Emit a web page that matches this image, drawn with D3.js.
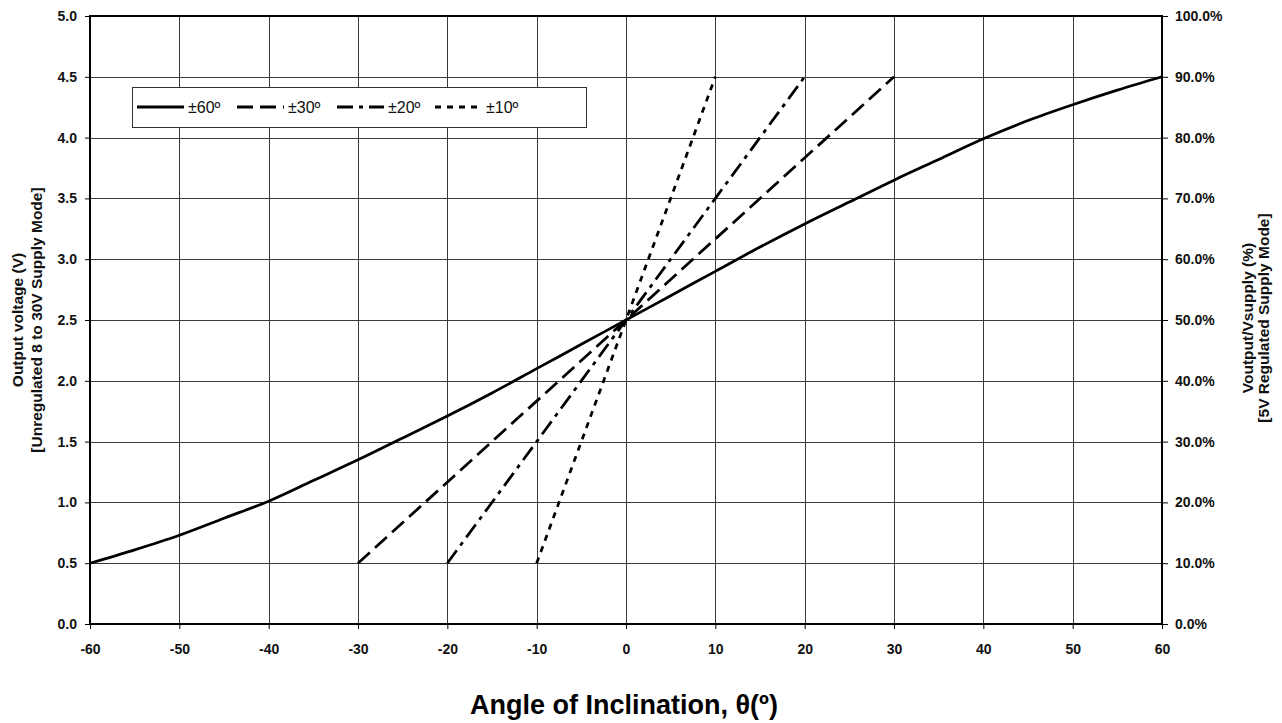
<!DOCTYPE html>
<html>
<head>
<meta charset="utf-8">
<script src="https://cdn.jsdelivr.net/npm/d3@7"></script>
<style>
  body { margin: 0; background: #fff; }
  svg { font-family: "Liberation Sans", Arial, sans-serif; }
  .axis text { font-size: 14px; font-weight: bold; fill: #111; }
  .axis path { display: none; }
  .axis line { stroke: #000; }
</style>
</head>
<body>
<script>
var hoeken60 = [-60, -55, -50, -45, -40, -35, -30, -25, -20, -15, -10, -5, 0, 5, 10, 15, 20, 25, 30, 35, 40, 45, 50, 55, 60];
var spanning60 = [0.50, 0.61, 0.73, 0.87, 1.01, 1.18, 1.35, 1.53, 1.71, 1.90, 2.10, 2.30, 2.50, 2.70, 2.90, 3.10, 3.29, 3.47, 3.65, 3.82, 3.99, 4.14, 4.27, 4.39, 4.50];
// rechte lijnen voor de andere bereiken
var hoeken30 = [-30, 30], spanning30 = [0.5, 4.5];
var hoeken20 = [-20, 20], spanning20 = [0.5, 4.5];
var hoeken10 = [-10, 10], spanning10 = [0.5, 4.5];
var reeksNamen = ["±60º", "±30º", "±20º", "±10º"];

var xTicks = [-60, -50, -40, -30, -20, -10, 0, 10, 20, 30, 40, 50, 60];
var yTicks = [0, 0.5, 1, 1.5, 2, 2.5, 3, 3.5, 4, 4.5, 5];
var yRechtsTicks = [0, 10, 20, 30, 40, 50, 60, 70, 80, 90, 100];

var breedte = 1282, hoogte = 723;
var marge = {links: 90, rechts: 1162, boven: 16, beneden: 624};

var svg = d3.select("body").append("svg")
    .attr("width", breedte)
    .attr("height", hoogte);

var x = d3.scaleLinear().domain([-60, 60]).range([marge.links, marge.rechts]);
var y = d3.scaleLinear().domain([0, 5]).range([marge.beneden, marge.boven]);
var yRechts = d3.scaleLinear().domain([0, 100]).range([marge.beneden, marge.boven]);

// rasterlijnen
svg.append("g").selectAll("line")
    .data(yTicks)
    .enter().append("line")
    .attr("x1", marge.links).attr("x2", marge.rechts)
    .attr("y1", function(d) { return Math.round(y(d)) + 0.5; })
    .attr("y2", function(d) { return Math.round(y(d)) + 0.5; })
    .attr("stroke", "#3a3a3a").attr("stroke-width", 1);

svg.append("g").selectAll("line")
    .data(xTicks)
    .enter().append("line")
    .attr("y1", marge.boven).attr("y2", marge.beneden)
    .attr("x1", function(d) { return Math.round(x(d)) + 0.5; })
    .attr("x2", function(d) { return Math.round(x(d)) + 0.5; })
    .attr("stroke", "#3a3a3a").attr("stroke-width", 1);

// kader
svg.append("rect")
    .attr("x", marge.links).attr("y", marge.boven)
    .attr("width", marge.rechts - marge.links)
    .attr("height", marge.beneden - marge.boven)
    .attr("fill", "none").attr("stroke", "#000").attr("stroke-width", 2);

// assen
svg.append("g").attr("class", "axis")
    .attr("transform", "translate(" + marge.links + ",0)")
    .call(d3.axisLeft(y).tickValues(yTicks).tickFormat(function(d) { return d.toFixed(1); }).tickSize(5).tickPadding(8));

svg.append("g").attr("class", "axis")
    .attr("transform", "translate(" + marge.rechts + ",0)")
    .call(d3.axisRight(yRechts).tickValues(yRechtsTicks).tickFormat(function(d) { return d.toFixed(1) + "%"; }).tickSize(6).tickPadding(7));

svg.append("g").attr("class", "axis")
    .attr("transform", "translate(0," + marge.beneden + ")")
    .call(d3.axisBottom(x).tickValues(xTicks).tickFormat(function(d) { return String(d); }).tickSize(5).tickPadding(15));

// lijnen
var lijn = d3.line()
    .x(function(d) { return x(d[0]); })
    .y(function(d) { return y(d[1]); })
    .curve(d3.curveMonotoneX);

var streep = ["", "16,7", "16,6,4,6", "6,6"];
var reeksen = [
  d3.zip(hoeken60, spanning60),
  d3.zip(hoeken30, spanning30),
  d3.zip(hoeken20, spanning20),
  d3.zip(hoeken10, spanning10)
];

svg.append("g").selectAll("path")
    .data(reeksen)
    .enter().append("path")
    .attr("d", lijn)
    .attr("fill", "none")
    .attr("stroke", "#000")
    .attr("stroke-width", 2.75)
    .attr("stroke-dasharray", function(d, i) { return streep[i] || null; });

// legenda
var legenda = svg.append("g");
legenda.append("rect")
    .attr("x", 132.5).attr("y", 87.5)
    .attr("width", 454).attr("height", 40)
    .attr("fill", "#fff").attr("stroke", "#333").attr("stroke-width", 1);

var legX = [137, 237, 337, 435];
legenda.selectAll("line")
    .data(reeksNamen)
    .enter().append("line")
    .attr("x1", function(d, i) { return legX[i]; })
    .attr("x2", function(d, i) { return legX[i] + 47; })
    .attr("y1", 107).attr("y2", 107)
    .attr("stroke", "#000").attr("stroke-width", 3)
    .attr("stroke-dasharray", function(d, i) { return streep[i] || null; });

legenda.selectAll("text")
    .data(reeksNamen)
    .enter().append("text")
    .attr("x", function(d, i) { return legX[i] + 51; })
    .attr("y", 113)
    .attr("font-size", "16px")
    .attr("fill", "#111")
    .text(function(d) { return d; });

// astitels
svg.append("text")
    .attr("x", 624).attr("y", 714)
    .attr("text-anchor", "middle")
    .attr("font-size", "27px").attr("font-weight", "bold")
    .text("Angle of Inclination, θ(º)");

var links = svg.append("text")
    .attr("transform", "translate(23,320) rotate(-90)")
    .attr("text-anchor", "middle")
    .attr("font-size", "15.5px").attr("font-weight", "bold").attr("fill", "#111");
links.append("tspan").attr("x", 0).attr("y", 0).text("Output voltage (V)");
links.append("tspan").attr("x", 0).attr("y", 19).text("[Unregulated 8 to 30V Supply Mode]");

var rechts = svg.append("text")
    .attr("transform", "translate(1253,318) rotate(-90)")
    .attr("text-anchor", "middle")
    .attr("font-size", "15.5px").attr("font-weight", "bold").attr("fill", "#111");
rechts.append("tspan").attr("x", 0).attr("y", 0).text("Voutput/Vsupply (%)");
rechts.append("tspan").attr("x", 0).attr("y", 16).text("[5V Regulated Supply Mode]");
</script>
</body>
</html>
